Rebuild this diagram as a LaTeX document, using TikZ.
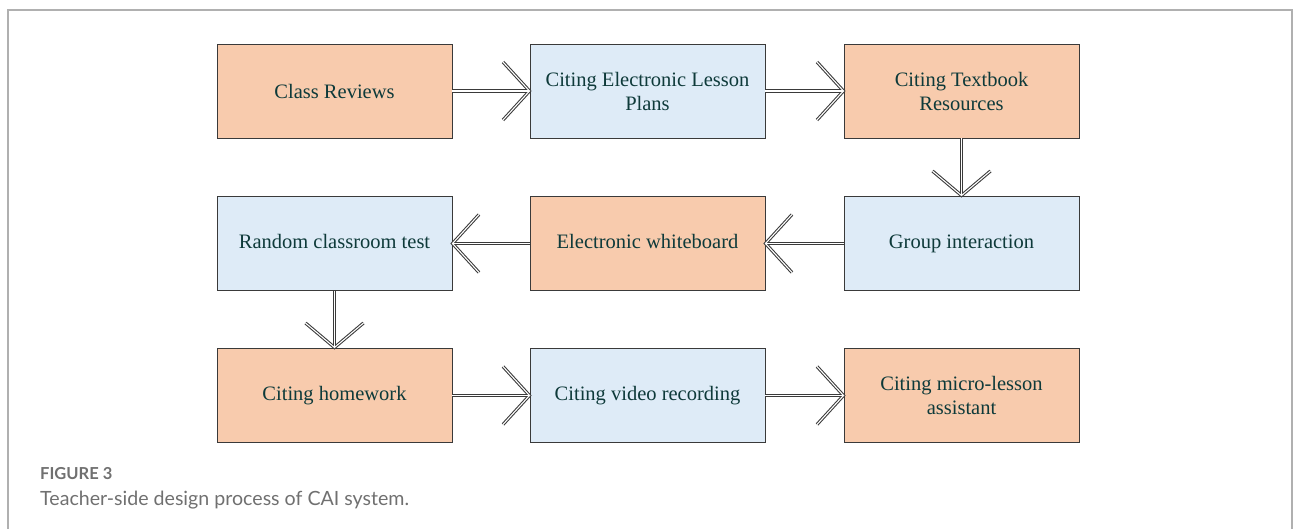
\documentclass[tikz,border=0pt]{standalone}
\usepackage{fontspec}
\setmainfont{Liberation Serif}
\newfontfamily\capfont{Lato}
\definecolor{boxorange}{HTML}{F8CBAD}
\definecolor{boxblue}{HTML}{DEEBF7}
\definecolor{boxline}{HTML}{3A3A3A}
\definecolor{txt}{HTML}{0E3A3A}
\definecolor{framegray}{HTML}{B0B0B0}
\definecolor{capgray}{HTML}{707070}
\begin{document}
\begin{tikzpicture}[x=1pt,y=-1pt,
  stepbox/.style={draw=boxline, line width=0.8pt, minimum width=235pt, minimum height=94pt,
    inner sep=0pt, text=txt, align=center, font=\fontsize{20.5}{24}\selectfont},
  orangebox/.style={stepbox, fill=boxorange},
  bluebox/.style={stepbox, fill=boxblue},
  hollow/.style={boxline, line width=3.2pt, line join=miter, line cap=butt},
  hollowin/.style={white, line width=1.1pt, line join=miter, line cap=butt},
]
\useasboundingbox (0,0) rectangle (1293,529);
\draw[framegray, line width=1.3pt] (8,529) -- (8,10) -- (1292,10) -- (1292,529);

\node[orangebox] (a1) at (334.5,91) {Class Reviews};
\node[bluebox]   (a2) at (647.5,91) {Citing Electronic Lesson\\Plans};
\node[orangebox] (a3) at (961.5,91) {Citing Textbook\\Resources};
\node[bluebox]   (b3) at (961.5,243.5) {\strut Group interaction};
\node[orangebox] (b2) at (647.5,243.5) {\strut Electronic whiteboard};
\node[bluebox]   (b1) at (334.5,243.5) {\strut Random classroom test};
\node[orangebox] (c1) at (334.5,395.5) {\strut Citing homework};
\node[bluebox]   (c2) at (647.5,395.5) {\strut Citing video recording};
\node[orangebox] (c3) at (961.5,395.5) {Citing micro-lesson\\assistant};

% horizontal right arrows
\foreach \sx/\tx/\yy in {452/530/91, 765/844/91, 452/530/395.5, 765/844/395.5}{
  \draw[hollow] (\sx,\yy) -- (\tx,\yy);
  \draw[hollow] (\tx-27,\yy-29) -- (\tx-0.5,\yy) -- (\tx-27,\yy+29);
  \draw[hollowin] (\sx,\yy) -- (\tx-1,\yy);
  \draw[hollowin] (\tx-27,\yy-29) -- (\tx-0.5,\yy) -- (\tx-27,\yy+29);
}
% horizontal left arrows
\foreach \sx/\tx/\yy in {844/765/243.5, 530/452/243.5}{
  \draw[hollow] (\sx,\yy) -- (\tx,\yy);
  \draw[hollow] (\tx+27,\yy-29) -- (\tx+0.5,\yy) -- (\tx+27,\yy+29);
  \draw[hollowin] (\sx,\yy) -- (\tx+1,\yy);
  \draw[hollowin] (\tx+27,\yy-29) -- (\tx+0.5,\yy) -- (\tx+27,\yy+29);
}
% vertical down arrows
\foreach \xx/\sy/\ty in {961.5/138/196, 334.5/291/348}{
  \draw[hollow] (\xx,\sy) -- (\xx,\ty);
  \draw[hollow] (\xx-29,\ty-25) -- (\xx,\ty-0.5) -- (\xx+29,\ty-25);
  \draw[hollowin] (\xx,\sy) -- (\xx,\ty-1);
  \draw[hollowin] (\xx-29,\ty-25) -- (\xx,\ty-0.5) -- (\xx+29,\ty-25);
}

\node[anchor=base west, inner sep=0pt, text=capgray, font=\capfont\bfseries\fontsize{16.5}{18}\selectfont] (fig) at (40,479) {FIGURE 3};
\node[anchor=base west, inner sep=0pt, text=capgray, font=\capfont\fontsize{19.6}{22}\selectfont] (cap) at (40,505) {Teacher-side design process of CAI system.};
\end{tikzpicture}
\end{document}
